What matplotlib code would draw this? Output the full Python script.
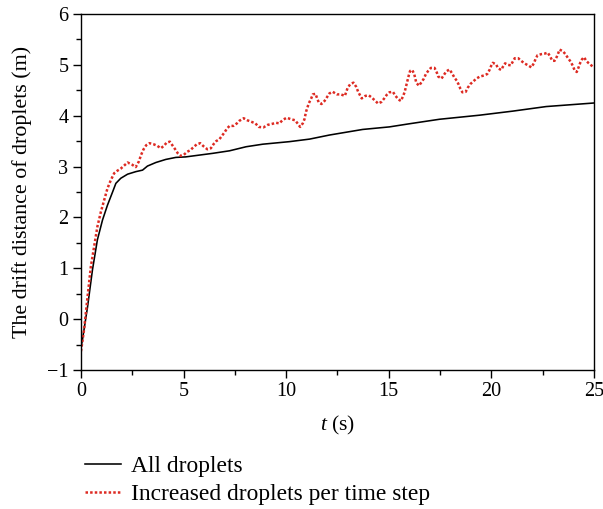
import matplotlib
matplotlib.use("Agg")
import matplotlib.pyplot as plt
from matplotlib.ticker import MultipleLocator

plt.rcParams["font.family"] = ["Liberation Serif", "DejaVu Serif"]
plt.rcParams["mathtext.fontset"] = "custom"
plt.rcParams["mathtext.rm"] = "Liberation Serif"
plt.rcParams["mathtext.it"] = "Liberation Serif:italic"
plt.rcParams["axes.unicode_minus"] = True

# Drift distance of all droplets
t_all = [0.0, 0.07, 0.32, 0.56, 0.8, 1.05, 1.29, 1.54, 1.7, 1.94, 2.27, 2.67,
         3.0, 3.24, 3.65, 4.13, 4.62, 5.1, 6.42, 7.24, 8.05, 8.86, 10.16,
         11.14, 12.11, 13.73, 15.03, 15.98, 17.47, 19.42, 21.04, 22.67, 25.0]
d_all = [-0.55, -0.41, 0.24, 0.97, 1.56, 1.95, 2.24, 2.50, 2.67, 2.77, 2.85,
         2.90, 2.93, 3.01, 3.08, 3.14, 3.18, 3.19, 3.26, 3.31, 3.39, 3.44,
         3.49, 3.54, 3.62, 3.73, 3.78, 3.84, 3.93, 4.01, 4.09, 4.18, 4.25]

# Drift distance of droplets added per time step
t_inc = [0.0, 0.15, 0.32, 0.48, 0.64, 0.80, 0.97, 1.13, 1.29, 1.45, 1.62, 1.78,
         1.94, 2.27, 2.48, 2.67, 2.82, 2.93, 3.05, 3.18, 3.34, 3.53, 3.71, 3.89,
         4.05, 4.17, 4.33, 4.47, 4.59, 4.72, 4.85, 5.01, 5.17, 5.32, 5.48, 5.65,
         5.81, 5.97, 6.16, 6.33, 6.46, 6.59, 6.75, 6.88, 7.01, 7.1, 7.24, 7.43,
         7.6, 7.72, 7.93, 8.11, 8.31, 8.5, 8.66, 8.89, 9.1, 9.32, 9.51, 9.67,
         9.84, 10.03, 10.24, 10.44, 10.57, 10.68, 10.81, 10.89, 10.97, 11.1,
         11.22, 11.3, 11.43, 11.51, 11.59, 11.72, 11.87, 11.98, 12.11, 12.27,
         12.47, 12.66, 12.86, 12.99, 13.12, 13.28, 13.41, 13.51, 13.68, 13.86,
         14.03, 14.19, 14.35, 14.48, 14.64, 14.78, 14.9, 15.03, 15.2, 15.33,
         15.47, 15.59, 15.68, 15.77, 15.88, 15.98, 16.04, 16.14, 16.24, 16.34,
         16.47, 16.6, 16.71, 16.81, 16.92, 17.05, 17.23, 17.34, 17.41, 17.57,
         17.7, 17.8, 17.96, 18.09, 18.2, 18.31, 18.41, 18.49, 18.59, 18.75,
         18.85, 18.97, 19.11, 19.27, 19.44, 19.63, 19.8, 19.91, 19.99, 20.07,
         20.23, 20.33, 20.48, 20.56, 20.67, 20.8, 20.95, 21.04, 21.14, 21.31,
         21.45, 21.61, 21.79, 21.95, 22.07, 22.15, 22.25, 22.43, 22.59, 22.75,
         22.87, 22.97, 23.08, 23.19, 23.27, 23.32, 23.48, 23.61, 23.74, 23.87,
         23.97, 24.05, 24.16, 24.25, 24.33, 24.42, 24.52, 24.62, 24.75, 24.9,
         25.0]
d_inc = [-0.63, -0.21, 0.44, 1.03, 1.42, 1.82, 2.11, 2.34, 2.57, 2.73, 2.87,
         2.92, 2.96, 3.08, 3.04, 2.99, 3.10, 3.23, 3.34, 3.42, 3.46, 3.44, 3.41,
         3.36, 3.41, 3.47, 3.49, 3.41, 3.34, 3.26, 3.21, 3.23, 3.29, 3.32, 3.38,
         3.44, 3.46, 3.40, 3.34, 3.36, 3.44, 3.50, 3.54, 3.61, 3.68, 3.74, 3.80,
         3.80, 3.85, 3.90, 3.95, 3.91, 3.88, 3.85, 3.78, 3.77, 3.82, 3.84, 3.86,
         3.85, 3.92, 3.96, 3.93, 3.91, 3.84, 3.78, 3.85, 3.93, 4.08, 4.24, 4.34,
         4.42, 4.43, 4.34, 4.26, 4.23, 4.29, 4.36, 4.44, 4.47, 4.42, 4.42, 4.39,
         4.54, 4.62, 4.65, 4.57, 4.47, 4.34, 4.39, 4.40, 4.35, 4.29, 4.24, 4.27,
         4.34, 4.41, 4.46, 4.47, 4.39, 4.32, 4.29, 4.37, 4.46, 4.64, 4.80, 4.88,
         4.90, 4.82, 4.65, 4.59, 4.66, 4.73, 4.82, 4.88, 4.94, 4.94, 4.85, 4.77,
         4.73, 4.81, 4.87, 4.91, 4.83, 4.75, 4.69, 4.61, 4.53, 4.46, 4.47, 4.55,
         4.62, 4.67, 4.73, 4.77, 4.79, 4.82, 4.90, 4.98, 5.04, 5.01, 4.93, 4.90,
         4.96, 5.03, 5.00, 4.99, 5.06, 5.13, 5.13, 5.08, 5.03, 4.99, 4.95, 5.03,
         5.11, 5.19, 5.21, 5.22, 5.24, 5.16, 5.08, 5.08, 5.16, 5.24, 5.30, 5.27,
         5.21, 5.13, 5.06, 4.98, 4.90, 4.86, 4.95, 5.04, 5.11, 5.15, 5.08, 5.03,
         4.98, 4.95]

labels = ["All droplets", "Increased droplets per time step"]

fig = plt.figure(figsize=(6.03, 5.09), dpi=100)
ax = fig.add_axes([0.1343, 0.2731, 0.8507, 0.6994])

h1, = ax.plot(t_all, d_all, color="black", lw=1.15, label=labels[0])
h2, = ax.plot(t_inc, d_inc, color="#dd2a22", lw=1.8,
              linestyle=(0, (1, 0.85)), label=labels[1])

ax.set_xlim(0, 25)
ax.set_ylim(-1, 6)
ax.xaxis.set_major_locator(MultipleLocator(5))
ax.xaxis.set_minor_locator(MultipleLocator(2.5))
ax.yaxis.set_major_locator(MultipleLocator(1))
ax.yaxis.set_minor_locator(MultipleLocator(0.5))
ax.tick_params(which="major", direction="out", length=6, width=1.0,
               labelsize=14.5, pad=3)
ax.tick_params(which="minor", direction="out", length=3.5, width=1.0)
for s in ax.spines.values():
    s.set_linewidth(1.0)

ax.set_xlabel("$t$ (s)", fontsize=15.5, labelpad=9)
ax.set_ylabel("The drift distance of droplets (m)", fontsize=15.8,
              labelpad=11)

fig.legend([h1, h2], labels, loc="upper left",
           bbox_to_anchor=(0.141, 0.104), frameon=False, fontsize=16.9,
           handlelength=1.55, handletextpad=0.42, labelspacing=0.28,
           borderaxespad=0, borderpad=0)

fig.savefig("out.png", dpi=100)
